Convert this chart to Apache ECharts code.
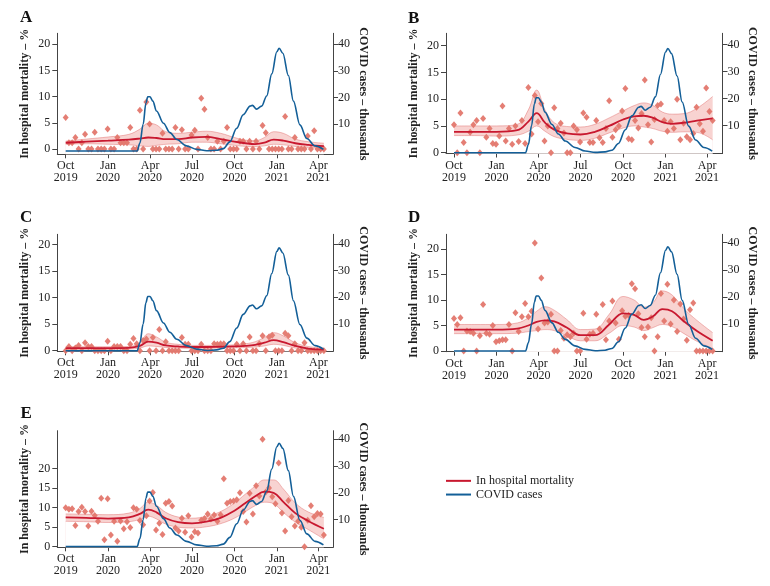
<!DOCTYPE html>
<html><head><meta charset="utf-8">
<script src="https://cdn.jsdelivr.net/npm/echarts@6/dist/echarts.min.js"></script>
<style>html,body{margin:0;padding:0;background:#fff}#c{width:770px;height:586px}</style>
</head><body><div id="c"></div>
<script>
// ---------- data ----------
const tickDates = ['2019-10-01','2020-01-01','2020-04-01','2020-07-01','2020-10-01','2021-01-01','2021-04-01'];
const tickLabels = ['Oct\n2019','Jan\n2020','Apr\n2020','Jul\n2020','Oct\n2020','Jan\n2021','Apr\n2021'];
const leftTicks = [0,5,10,15,20];
const rightTicks = [10,20,30,40];
const panelLetters = ['A','B','C','D','E'];
const legendNames = ['In hospital mortality','COVID cases'];

// weekly observations starting at pointStart
const pointStart = '2019-10-01';
const pointStepDays = 7;
const pointsA = [6.0,1.2,1.2,2.2,0,1.2,2.8,0,0,3.2,
 0,0,0,3.8,0,0,2.2,1.2,1.2,1.2,
 4.1,0,0,7.4,0,9.0,4.8,0,0,0,
 3.0,0,0,0,4.1,0,3.7,0,0,2.7,
 3.6,0,9.7,7.6,2.2,0,0,1.5,0,1.5,
 4.1,0,0,0,1.5,1.5,0,1.5,0,1.5,
 0,4.5,3.1,0,0,0,0,0,6.2,0,
 0,2.2,0,0,0,2.5,0,3.5,0,0,
 0];
const pointsB = [5.2,0,7.4,1.9,0,3.8,5.2,6.0,0,6.4,
 2.9,4.5,1.7,1.6,3.1,8.7,2.2,4.5,1.6,5.0,
 2.1,6.0,1.7,12.2,3.5,10.7,5.8,9.2,2.2,5.0,
 0,8.4,4.5,5.5,3.7,0,0,5.0,4.3,2.0,
 7.4,6.6,1.9,1.9,6.0,2.8,1.9,4.5,9.7,2.9,
 4.3,5.0,7.8,12.0,2.6,2.4,6.0,4.6,7.3,13.6,
 5.2,2.0,6.2,8.8,9.1,6.0,4.0,5.8,4.5,10.0,
 2.4,5.5,3.0,2.4,3.6,8.5,5.4,4.0,12.1,7.7,
 6.0];
const pointsC = [0,0.8,0,0.5,1.0,0,1.5,0.8,0.8,0,
 0,0,0,1.8,0,0.8,0.8,0.8,0,0,
 1.2,2.3,1.3,0,1.9,2.2,0,2.5,0,4.0,
 0,1.7,0,0,0,0,2.5,1.2,1.2,0,
 0,0,1.2,0,0,0,1.3,1.2,1.3,1.3,
 0,0,0,1.2,0,1.3,0,2.6,0,0,
 1.3,2.8,0,2.6,2.9,0,0,0,3.3,2.8,
 0,1.3,0,0,1.5,0,0,0,0,0,
 0];
const pointsD = [6.4,5.2,6.5,0,3.9,3.8,3.5,0,3.0,9.1,
 3.5,3.3,5.0,1.8,2.0,2.2,2.2,5.2,0,7.5,
 3.8,6.7,9.3,6.7,7.8,21.2,4.3,14.3,5.5,5.7,
 7.2,0,0,4.0,2.5,3.2,2.8,3.5,0,0,
 7.4,2.3,3.3,3.5,7.2,4.3,9.1,2.2,5.9,9.8,
 5.5,2.3,7.9,6.8,7.0,13.2,12.2,7.3,4.6,2.8,
 4.7,6.5,0,2.8,11.3,5.9,13.1,5.3,10.0,3.8,
 9.2,6.3,2.1,8.1,9.4,0,0,0,0,0,
 0];
const pointsE = [10.0,9.6,9.7,5.4,9.0,10.1,9.0,5.3,9.1,8.0,
 6.5,12.4,1.8,12.3,3.0,6.5,1.4,6.6,4.6,6.4,
 4.9,10.0,9.6,6.7,5.6,7.9,11.7,13.9,4.3,6.0,
 3.1,11.1,11.6,10.4,4.8,4.0,7.3,3.7,7.9,2.5,
 3.8,3.5,6.8,7.2,8.4,7.1,8.1,6.5,8.2,17.4,
 11.1,11.6,11.7,12.0,13.8,9.0,6.3,13.7,8.4,15.6,
 13.0,27.5,14.0,15.0,12.8,11.0,21.4,8.6,4.0,11.8,
 7.7,5.3,6.5,5.0,0,6.8,10.5,7.7,8.5,8.4,
 3.0];

// smoothed fit and its confidence band
const fitDates = ['2019-10-01','2019-11-15','2020-01-01','2020-02-15','2020-03-10','2020-03-28','2020-04-15','2020-05-05','2020-06-01','2020-07-01','2020-08-01','2020-09-01','2020-10-01','2020-10-25','2020-11-15','2020-12-05','2020-12-25','2021-01-15','2021-02-10','2021-03-10','2021-04-13'];
const fitA = [1.2,1.4,1.6,1.8,2.0,2.2,2.1,1.9,1.9,2.2,2.3,1.9,1.4,1.1,0.95,1.2,1.8,1.6,1.1,0.8,0.55];
const hiA  = [1.5,1.9,2.3,2.8,3.8,4.9,4.6,3.3,3.0,3.2,3.4,3.0,2.2,1.7,1.6,2.2,3.3,3.0,1.9,1.4,1.1];
const loA  = [0.9,1.0,0.9,0.8,0.6,0.5,0.7,0.9,1.0,1.3,1.3,1.0,0.7,0.5,0.45,0.6,0.9,0.8,0.5,0.3,0.15];
const fitB = [3.9,3.9,3.9,4.2,5.8,7.4,5.6,4.3,3.6,3.4,3.9,5.0,6.2,6.8,6.9,6.5,5.7,5.4,5.6,6.0,6.4];
const hiB  = [5.0,5.0,5.0,5.3,8.0,11.7,8.0,5.6,4.9,4.8,5.3,6.5,7.8,8.8,9.3,8.8,7.6,7.2,7.3,8.3,10.5];
const loB  = [3.2,3.2,3.1,3.3,4.0,5.0,4.0,3.0,2.5,2.3,2.7,3.7,4.6,5.0,4.8,4.5,4.0,3.8,3.9,3.8,2.4];
const fitC = [0.5,0.5,0.5,0.55,0.9,1.7,1.5,1.0,0.8,0.7,0.7,0.75,0.8,0.9,1.1,1.5,2.0,1.6,0.9,0.4,0.2];
const hiC  = [0.8,0.75,0.75,0.8,1.5,3.2,2.6,1.6,1.2,1.0,1.0,1.05,1.1,1.3,1.7,2.5,3.4,2.8,1.5,0.8,0.5];
const loC  = [0.25,0.25,0.25,0.3,0.5,0.9,0.8,0.6,0.5,0.45,0.45,0.5,0.55,0.6,0.7,0.9,1.2,1.0,0.5,0.15,0.05];
const fitD = [4.2,4.2,4.2,4.4,5.0,5.7,6.0,5.8,4.6,3.1,3.1,5.2,7.4,7.1,6.1,6.8,8.2,7.8,5.8,3.9,2.0];
const hiD  = [5.2,5.2,5.2,5.5,6.5,7.8,8.7,8.0,6.2,4.2,4.3,7.2,10.7,10.0,8.6,9.5,11.8,11.0,8.3,6.0,3.6];
const loD  = [3.4,3.4,3.4,3.5,3.8,4.0,4.2,4.0,3.0,2.0,2.0,3.5,5.0,4.7,4.0,4.6,5.2,4.8,3.4,1.9,0.5];
const fitE = [7.5,7.4,7.2,7.5,8.4,9.5,8.8,7.3,6.3,6.0,6.4,7.4,9.2,11.2,12.9,14.1,13.8,11.5,8.6,6.6,4.6];
const hiE  = [8.4,8.3,8.2,8.6,9.8,11.4,10.6,8.8,7.6,7.3,7.8,9.0,11.2,13.5,15.5,17.1,17.1,14.8,11.2,8.9,7.5];
const loE  = [6.5,6.4,6.2,6.4,7.0,7.8,7.1,5.8,5.0,4.8,5.1,5.9,7.3,9.0,10.5,11.4,11.0,8.8,6.3,4.4,2.0];

// COVID cases (thousands)
const covidDates = ['2019-10-01','2020-03-04','2020-03-10','2020-03-17','2020-03-23','2020-03-27','2020-04-01','2020-04-07','2020-04-15','2020-04-30','2020-05-14','2020-05-29','2020-06-19','2020-07-11','2020-08-02','2020-08-23','2020-09-07','2020-09-21','2020-10-06','2020-10-20','2020-11-04','2020-11-09','2020-11-18','2020-11-29','2020-12-10','2020-12-21','2021-01-01','2021-01-06','2021-01-14','2021-01-26','2021-02-06','2021-02-20','2021-03-07','2021-03-25','2021-04-12'];
const covidCases = [0,0,3,10,18,20.3,20.3,18.7,15,10.4,6.9,4.3,1.9,0.6,0.1,0.3,0.9,3.4,8.5,13.6,16.8,17.1,15.7,16.8,20.6,28.9,37.2,38.5,36.6,28.3,18.7,9.8,4.7,1.9,0.6];

// ---------- layout / style ----------
const FONT = '"Liberation Serif", "Times New Roman", serif';
const RED = '#c8182f', BLUE = '#135f98', PT = '#e3776d';
const BAND = '#f8d3d1', EDGE = 'rgba(222,100,100,0.55)', AX = '#444', TXT = '#222';
const layout = [
  {grid:{left:57.3, top:33.3, width:275.7, height:121},   yL:[-1.01,22.1], yR:[-1.24,44.1], xd:[-18.2,579.8], letter:[20,18]},
  {grid:{left:446,  top:33.3, width:276.5, height:120.2}, yL:[-0.15,22.3], yR:[-0.3,44.1],  xd:[-17.3,581.3], letter:[408,19]},
  {grid:{left:57.3, top:234.3, width:275.7, height:117},  yL:[-0.11,21.9], yR:[-0.22,43.6], xd:[-18.2,579.8], letter:[20,218]},
  {grid:{left:446,  top:234.3, width:276.5, height:117.4},yL:[-0.14,22.9], yR:[-0.26,43.1], xd:[-17.3,581.3], letter:[408,218]},
  {grid:{left:57.3, top:430.7, width:275.7, height:116.6},yL:[-0.15,29.7], yR:[-0.3,43.2],  xd:[-18.2,579.8], letter:[20.5,414]}
];
const panelData = [
  {pts:pointsA, fit:fitA, lo:loA, hi:hiA},
  {pts:pointsB, fit:fitB, lo:loB, hi:hiB},
  {pts:pointsC, fit:fitC, lo:loC, hi:hiC},
  {pts:pointsD, fit:fitD, lo:loD, hi:hiD},
  {pts:pointsE, fit:fitE, lo:loE, hi:hiE}
];

// ---------- build ----------
const DAY = 86400000;
const t = s => { const p = s.split('-').map(Number); return Date.UTC(p[0], p[1]-1, p[2]); };
const t0 = t(tickDates[0]);
const ps = t(pointStart);
const tickMs = tickDates.map(t);
const labelOf = {}; tickMs.forEach((v,i) => labelOf[v] = tickLabels[i]);

const grids = [], xAxes = [], yAxes = [], series = [], graphics = [];
layout.forEach((L, k) => {
  const D = panelData[k];
  grids.push(Object.assign({containLabel:false}, L.grid));
  xAxes.push({
    type:'value', gridIndex:k, min:t0 + L.xd[0]*DAY, max:t0 + L.xd[1]*DAY,
    splitLine:{show:false},
    axisLine:{show:true, onZero:false, lineStyle:{color:AX, width:1}},
    axisTick:{show:true, length:4, customValues:tickMs, lineStyle:{color:AX}},
    axisLabel:{customValues:tickMs, formatter:v => labelOf[v] || '', margin:6,
      color:TXT, fontFamily:FONT, fontSize:12, lineHeight:12}
  });
  yAxes.push({
    type:'value', gridIndex:k, position:'left', min:L.yL[0], max:L.yL[1],
    name:'In hospital mortality – %', nameLocation:'middle', nameGap:26,
    nameTextStyle:{fontFamily:FONT, fontSize:12, fontWeight:'bold', color:TXT},
    splitLine:{show:false},
    axisLine:{show:true, lineStyle:{color:AX, width:1}},
    axisTick:{show:true, length:5, customValues:leftTicks, lineStyle:{color:AX}},
    axisLabel:{customValues:leftTicks, margin:7, color:TXT, fontFamily:FONT, fontSize:12}
  });
  yAxes.push({
    type:'value', gridIndex:k, position:'right', min:L.yR[0], max:L.yR[1],
    name:'COVID cases – thousands', nameLocation:'middle', nameGap:24, nameRotate:-90,
    nameTextStyle:{fontFamily:FONT, fontSize:12, fontWeight:'bold', color:TXT},
    splitLine:{show:false},
    axisLine:{show:true, lineStyle:{color:AX, width:1}},
    axisTick:{show:true, length:5, customValues:rightTicks, lineStyle:{color:AX}},
    axisLabel:{customValues:rightTicks, margin:5, color:TXT, fontFamily:FONT, fontSize:12}
  });
  // confidence band: upper curve filled pink, lower curve masked with white
  series.push({
    type:'line', name:'band-hi-' + k, xAxisIndex:k, yAxisIndex:2*k,
    data: fitDates.map((d,i) => [t(d), D.hi[i]]), smooth:0.4, symbol:'none', silent:true,
    lineStyle:{color:EDGE, width:0.8}, areaStyle:{color:BAND, opacity:1, origin:'start'}, z:1
  });
  series.push({
    type:'line', name:'band-lo-' + k, xAxisIndex:k, yAxisIndex:2*k,
    data: fitDates.map((d,i) => [t(d), D.lo[i]]), smooth:0.4, symbol:'none', silent:true,
    lineStyle:{color:EDGE, width:0.8}, areaStyle:{color:'#ffffff', opacity:1, origin:'start'}, z:2
  });
  series.push({
    type:'scatter', name:'obs-' + k, xAxisIndex:k, yAxisIndex:2*k,
    data: D.pts.map((v,i) => [ps + i*pointStepDays*DAY, v]),
    symbol:'diamond', symbolSize:[6,7], itemStyle:{color:PT, opacity:0.95}, z:3, silent:true
  });
  series.push({
    type:'line', name:legendNames[0], xAxisIndex:k, yAxisIndex:2*k,
    data: fitDates.map((d,i) => [t(d), D.fit[i]]), smooth:0.4, symbol:'none',
    lineStyle:{color:RED, width:1.8}, itemStyle:{color:RED}, z:4
  });
  series.push({
    type:'line', name:legendNames[1], xAxisIndex:k, yAxisIndex:2*k+1,
    data: covidDates.map((d,i) => [t(d), covidCases[i]]), smooth:0.35, smoothMonotone:'x', symbol:'none',
    lineStyle:{color:BLUE, width:1.6}, itemStyle:{color:BLUE}, z:5
  });
  graphics.push({
    type:'text', left:L.letter[0], top:L.letter[1] - 9,
    style:{text:panelLetters[k], fill:'#111', font:'bold 17px ' + FONT}
  });
});

const chart = echarts.init(document.getElementById('c'), null, {renderer:'canvas', width:770, height:586});
chart.setOption({
  backgroundColor:'#fff',
  animation:false,
  grid:grids, xAxis:xAxes, yAxis:yAxes, series:series,
  graphic:graphics,
  legend:{
    data:legendNames, orient:'vertical', left:446, top:474, padding:0, icon:'rect',
    itemWidth:25, itemHeight:2, itemGap:0,
    textStyle:{fontFamily:FONT, fontSize:12, color:TXT, lineHeight:13.7}, selectedMode:false
  }
});
</script>
</body></html>
